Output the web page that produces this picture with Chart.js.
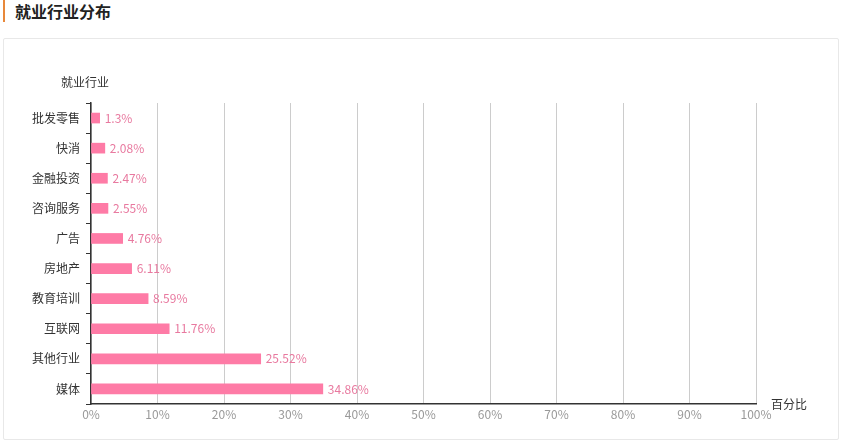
<!DOCTYPE html>
<html><head><meta charset="utf-8">
<script src="https://cdn.jsdelivr.net/npm/chart.js@4/dist/chart.umd.min.js"></script>
<style>
body{margin:0;width:842px;height:441px;background:#fff;font-family:"Noto Sans CJK SC",sans-serif;position:relative;overflow:hidden}
#title{position:absolute;left:3px;top:0;height:22px;line-height:22px;border-left:2px solid #e8883a;padding-left:10px;font-size:16px;font-weight:bold;color:#222}
#panel{position:absolute;left:3px;top:38px;width:834px;height:400px;border:1px solid #e8e8e8;border-radius:2px}
#c{position:absolute;left:0;top:0}
</style></head><body>
<div id="title">就业行业分布</div>
<div id="panel"></div>
<canvas id="c" width="842" height="441"></canvas>
<script>
const categories = ['批发零售','快消','金融投资','咨询服务','广告','房地产','教育培训','互联网','其他行业','媒体'];
const values = [1.3,2.08,2.47,2.55,4.76,6.11,8.59,11.76,25.52,34.86];

const ctx = document.getElementById('c');
const font = {family: '"Noto Sans CJK SC", sans-serif', size: 12};

const extras = {
    id: 'extras',
    afterDatasetsDraw(chart) {
        const c = chart.ctx, meta = chart.getDatasetMeta(0);
        c.save();
        c.font = '12px "Noto Sans CJK SC", sans-serif';
        c.fillStyle = '#e8799f';
        c.textBaseline = 'middle';
        meta.data.forEach((bar, i) => c.fillText(values[i] + '%', bar.x + 5, bar.y));
        c.fillStyle = '#333';
        c.textAlign = 'center';
        c.fillText('就业行业', 85, 82);
        c.textAlign = 'left';
        c.fillText('百分比', 771, 404);
        c.restore();
    }
};

new Chart(ctx, {
    type: 'bar',
    data: {
        labels: categories,
        datasets: [{data: values, backgroundColor: '#fe7ba6', barThickness: 10}]
    },
    plugins: [extras],
    options: {
        responsive: false,
        animation: false,
        indexAxis: 'y',
        layout: {padding: {top: 103, right: 86, left: 0, bottom: 0}},
        plugins: {legend: {display: false}, tooltip: {enabled: false}},
        scales: {
            x: {
                min: 0, max: 100,
                ticks: {stepSize: 10, color: '#999', font, callback: v => v + '%'},
                grid: {color: '#ccc', drawTicks: false},
                border: {color: '#333', width: 1.5},
                afterFit: s => { s.height = 37; }
            },
            y: {
                ticks: {color: '#333', font, padding: 6},
                grid: {offset: true, drawOnChartArea: false, tickLength: 5, color: '#333'},
                border: {color: '#333', width: 1.5},
                afterFit: s => { s.width = 91; }
            }
        }
    }
});
</script>
</body></html>
